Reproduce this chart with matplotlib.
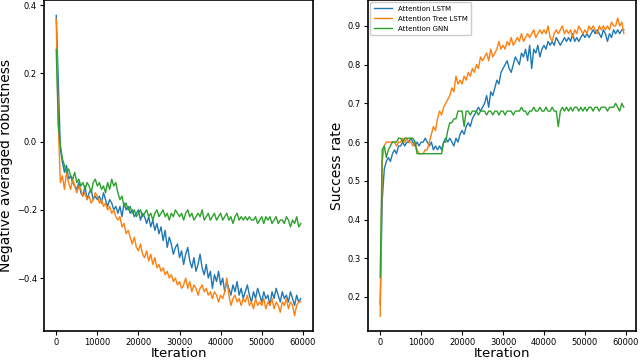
import numpy as np
import matplotlib
matplotlib.use("Agg")
import matplotlib.pyplot as plt

step = 500
labels = ["Attention LSTM", "Attention Tree LSTM", "Attention GNN"]

rob_lstm = [0.37, 0.18, -0.02, -0.06, -0.09, -0.07, -0.11, -0.10, -0.12, -0.13,
            -0.14, -0.12, -0.15, -0.16, -0.13, -0.17, -0.15, -0.14, -0.17, -0.16,
            -0.17, -0.16, -0.18, -0.15, -0.17, -0.19, -0.17, -0.18, -0.20, -0.19,
            -0.21, -0.19, -0.22, -0.18, -0.20, -0.19, -0.21, -0.20, -0.22, -0.21,
            -0.20, -0.23, -0.21, -0.22, -0.24, -0.22, -0.25, -0.23, -0.26, -0.24,
            -0.27, -0.25, -0.29, -0.26, -0.31, -0.28, -0.30, -0.33, -0.31, -0.30,
            -0.34, -0.32, -0.36, -0.33, -0.31, -0.35, -0.37, -0.34, -0.38, -0.36,
            -0.33, -0.37, -0.39, -0.36, -0.40, -0.38, -0.43, -0.39, -0.41, -0.38,
            -0.42, -0.40, -0.44, -0.41, -0.43, -0.45, -0.42, -0.44, -0.41, -0.45,
            -0.43, -0.46, -0.44, -0.42, -0.45, -0.47, -0.44, -0.46, -0.43, -0.45,
            -0.47, -0.44, -0.46, -0.45, -0.48, -0.44, -0.46, -0.43, -0.45, -0.47,
            -0.44, -0.46, -0.45, -0.47, -0.44, -0.46, -0.48, -0.45, -0.47, -0.46]

rob_tree = [0.36, 0.05, -0.12, -0.10, -0.14, -0.09, -0.12, -0.14, -0.11, -0.13,
            -0.15, -0.13, -0.14, -0.16, -0.15, -0.17, -0.16, -0.18, -0.17, -0.15,
            -0.16, -0.18, -0.17, -0.19, -0.18, -0.20, -0.19, -0.21, -0.20, -0.22,
            -0.23, -0.22, -0.25, -0.24, -0.27, -0.26, -0.28, -0.30, -0.28, -0.31,
            -0.32, -0.30, -0.33, -0.34, -0.32, -0.35, -0.33, -0.36, -0.34, -0.37,
            -0.36, -0.38, -0.37, -0.39, -0.38, -0.40, -0.39, -0.41, -0.40, -0.42,
            -0.41, -0.43, -0.42, -0.40, -0.43, -0.41, -0.44, -0.42, -0.43, -0.45,
            -0.43, -0.42, -0.44, -0.43, -0.45, -0.44, -0.46, -0.44, -0.45, -0.47,
            -0.45, -0.46, -0.44, -0.40, -0.45, -0.48, -0.46, -0.45, -0.47, -0.46,
            -0.48, -0.46, -0.47, -0.45, -0.48, -0.47, -0.49, -0.46, -0.48, -0.47,
            -0.48, -0.46, -0.49, -0.47, -0.48, -0.46, -0.49, -0.47, -0.48, -0.50,
            -0.47, -0.48, -0.46, -0.49, -0.47, -0.48, -0.51, -0.48, -0.47, -0.47]

rob_gnn = [0.27, 0.05, -0.01, -0.05, -0.07, -0.09, -0.08, -0.10, -0.11, -0.09,
           -0.12, -0.11, -0.13, -0.12, -0.14, -0.12, -0.13, -0.15, -0.12, -0.11,
           -0.13, -0.12, -0.14, -0.13, -0.15, -0.12, -0.14, -0.11, -0.13, -0.12,
           -0.15, -0.17, -0.16, -0.19, -0.18, -0.20, -0.19, -0.21, -0.20, -0.22,
           -0.21, -0.20, -0.22, -0.21, -0.20, -0.22, -0.21, -0.23, -0.21, -0.20,
           -0.22, -0.21, -0.20, -0.22, -0.21, -0.23, -0.21, -0.22, -0.20, -0.21,
           -0.22, -0.21, -0.23, -0.21, -0.20, -0.22, -0.21, -0.23, -0.22, -0.21,
           -0.22, -0.20, -0.23, -0.22, -0.21, -0.23, -0.22, -0.21, -0.23, -0.22,
           -0.21, -0.23, -0.22, -0.21, -0.23, -0.22, -0.24, -0.22, -0.21, -0.23,
           -0.22, -0.23, -0.22, -0.23, -0.22, -0.23, -0.23, -0.22, -0.24, -0.23,
           -0.22, -0.24, -0.22, -0.23, -0.22, -0.24, -0.23, -0.22, -0.24, -0.23,
           -0.23, -0.24, -0.22, -0.23, -0.25, -0.23, -0.24, -0.22, -0.25, -0.24]

suc_lstm = [0.18, 0.45, 0.53, 0.55, 0.56, 0.55, 0.57, 0.58, 0.57, 0.59,
            0.59, 0.60, 0.59, 0.60, 0.60, 0.61, 0.60, 0.59, 0.60, 0.59,
            0.60, 0.60, 0.61, 0.60, 0.59, 0.60, 0.58, 0.59, 0.58, 0.59,
            0.58, 0.60, 0.61, 0.60, 0.61, 0.60, 0.59, 0.61, 0.60, 0.62,
            0.63, 0.62, 0.64, 0.65, 0.64, 0.66, 0.67, 0.68, 0.69, 0.68,
            0.69, 0.70, 0.72, 0.69, 0.73, 0.72, 0.74, 0.76, 0.75, 0.78,
            0.79, 0.80, 0.81, 0.79, 0.78, 0.80, 0.82, 0.81, 0.80, 0.83,
            0.82, 0.84, 0.81, 0.85, 0.79, 0.84, 0.83, 0.85, 0.82, 0.84,
            0.85, 0.84, 0.86, 0.85, 0.86, 0.85, 0.87, 0.86, 0.85, 0.86,
            0.87, 0.86, 0.87, 0.86, 0.88, 0.86, 0.87, 0.86, 0.87, 0.88,
            0.87, 0.88, 0.87, 0.88, 0.89, 0.88, 0.89, 0.88, 0.87, 0.89,
            0.88, 0.86, 0.88, 0.87, 0.89, 0.88, 0.89, 0.88, 0.89, 0.89]

suc_tree = [0.15, 0.55, 0.59, 0.60, 0.60, 0.60, 0.60, 0.60, 0.59, 0.60,
            0.60, 0.61, 0.60, 0.61, 0.60, 0.60, 0.59, 0.60, 0.58, 0.57,
            0.57, 0.57, 0.58, 0.58, 0.60, 0.62, 0.64, 0.63, 0.66, 0.68,
            0.67, 0.69, 0.70, 0.71, 0.72, 0.74, 0.73, 0.77, 0.75, 0.76,
            0.75, 0.77, 0.76, 0.78, 0.77, 0.79, 0.78, 0.80, 0.79, 0.82,
            0.81, 0.82, 0.83, 0.81, 0.84, 0.82, 0.83, 0.84, 0.86, 0.84,
            0.85, 0.84, 0.86, 0.85, 0.87, 0.85, 0.86, 0.87, 0.86, 0.88,
            0.86, 0.87, 0.88, 0.87, 0.88, 0.89, 0.87, 0.88, 0.89, 0.88,
            0.89, 0.88, 0.90, 0.87, 0.86, 0.88, 0.89, 0.88, 0.89, 0.90,
            0.88, 0.89, 0.88, 0.89, 0.87, 0.89, 0.88, 0.90, 0.89, 0.88,
            0.89, 0.88, 0.90, 0.89, 0.90, 0.89, 0.88, 0.90, 0.89, 0.90,
            0.89, 0.90, 0.89, 0.91, 0.90, 0.90, 0.92, 0.90, 0.91, 0.88]

suc_gnn = [0.25, 0.58, 0.59, 0.56, 0.58, 0.59, 0.60, 0.60, 0.60, 0.61,
           0.61, 0.60, 0.61, 0.61, 0.61, 0.61, 0.61, 0.60, 0.57, 0.57,
           0.57, 0.57, 0.57, 0.57, 0.57, 0.57, 0.57, 0.57, 0.57, 0.57,
           0.57, 0.60, 0.60, 0.63, 0.65, 0.65, 0.66, 0.66, 0.68, 0.68,
           0.68, 0.64, 0.68, 0.68, 0.67, 0.68, 0.68, 0.68, 0.67, 0.68,
           0.68, 0.68, 0.67, 0.68, 0.68, 0.67, 0.68, 0.68, 0.67, 0.68,
           0.68, 0.67, 0.68, 0.68, 0.68, 0.67, 0.68, 0.68, 0.68, 0.69,
           0.68, 0.68, 0.67, 0.68, 0.68, 0.69, 0.68, 0.68, 0.69, 0.68,
           0.68, 0.69, 0.68, 0.68, 0.69, 0.68, 0.68, 0.64, 0.68, 0.69,
           0.68, 0.69, 0.68, 0.69, 0.68, 0.69, 0.69, 0.68, 0.69, 0.68,
           0.69, 0.68, 0.69, 0.69, 0.68, 0.69, 0.69, 0.68, 0.69, 0.69,
           0.69, 0.68, 0.69, 0.69, 0.69, 0.70, 0.69, 0.68, 0.70, 0.69]

colors = ["#1f77b4", "#ff7f0e", "#2ca02c"]

fig = plt.figure(figsize=(6.4, 3.6), dpi=100)
ax1 = fig.add_axes([44/640, 29/360, 269/640, 331/360])
ax2 = fig.add_axes([368/640, 29/360, 268/640, 331/360])

for ax, series in ((ax1, (rob_lstm, rob_tree, rob_gnn)), (ax2, (suc_lstm, suc_tree, suc_gnn))):
    for s, c, lab in zip(series, colors, labels):
        x = np.arange(len(s)) * step
        ax.plot(x, s, color=c, lw=1.0, label=lab)
    ax.tick_params(labelsize=6, length=3, width=0.8, pad=2)
    for sp in ax.spines.values():
        sp.set_linewidth(1.2)
    ax.set_xlabel("Iteration", fontsize=9.5, labelpad=0)
    ax.set_xticks([0, 10000, 20000, 30000, 40000, 50000, 60000])

ax1.set_ylabel("Negative averaged robustness", fontsize=10, labelpad=3)
ax1.set_yticks([-0.4, -0.2, 0.0, 0.2, 0.4])
ax1.set_ylim(-0.555, 0.415)
ax2.set_ylabel("Success rate", fontsize=10, labelpad=3)
ax2.set_ylim(0.112, 0.967)
ax2.legend(loc="upper left", fontsize=5, handlelength=2.7, borderaxespad=0.3,
           framealpha=1.0, borderpad=0.5, labelspacing=0.6)

fig.savefig("out.png", dpi=100)
